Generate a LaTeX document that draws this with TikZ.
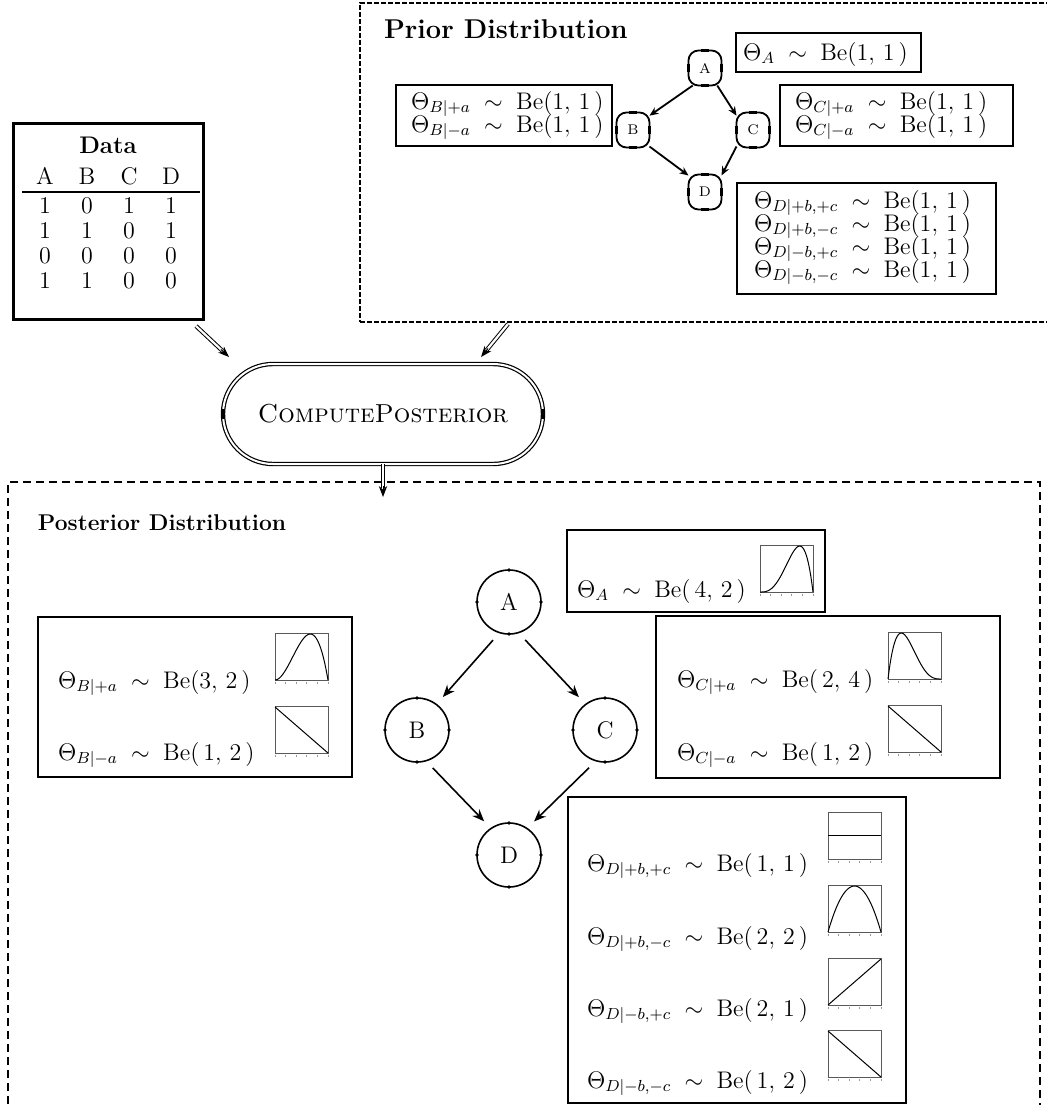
\documentclass[tikz,border=0pt]{standalone}
\usepackage{amsmath}
\usetikzlibrary{shapes.misc,arrows.meta,calc}
\newcommand\bplot[3]{%
  \draw[plotframe] (#1,#2) rectangle ++(53,-47);
  \draw[plotcurve] plot[domain=0:1,samples=50] ({#1+53*\x},{#2-46*(#3)});
  \foreach \t in {0,...,5} \draw[plottick] ({#1+\t*10.6},#2+1.5) -- ++(0,2.5);
}
\newcommand\thr[2]{$\Theta_{#1}\;\sim\;\mathrm{Be}(#2\,)$}
\begin{document}
\begin{tikzpicture}[x=0.5pt,y=-0.5pt,
  every node/.style={inner sep=0pt,outer sep=0pt},
  txt/.style={font=\fontsize{12}{14.4}\selectfont},
  sz/.style 2 args={minimum width=#1*0.5pt,minimum height=#2*0.5pt},
  solidbox/.style={draw,line width=1pt,rectangle},
  databox/.style={draw,line width=1.5pt,rectangle},
  priorbox/.style={draw,line width=1pt,rectangle,dash pattern=on 2.5pt off 1pt},
  postbox/.style={draw,line width=0.7pt,rectangle,dash pattern=on 4pt off 2.5pt},
  smallnode/.style={draw,line width=0.9pt,rectangle,rounded corners=5pt,minimum width=16.5pt,minimum height=17.5pt,font=\fontsize{7}{8}\selectfont},
  bignode/.style={draw,line width=0.8pt,circle,minimum size=32pt,font=\fontsize{12}{14.4}\selectfont},
  pill/.style={draw,rounded rectangle,double,double distance=1pt,line width=0.6pt,minimum width=160pt,minimum height=50pt,font=\fontsize{13}{15}\selectfont},
  parrowsmall/.style={-{Stealth[length=4.5pt,width=3.8pt]},line width=0.9pt},
  parrowbig/.style={-{Stealth[length=6pt,width=4.8pt]},line width=0.8pt,shorten >=5pt,shorten <=5pt},
  dbl/.style={double,double distance=1.1pt,line width=0.5pt},
  dbltip/.style={-{Stealth[length=5.5pt,width=4.2pt]},line width=0.5pt},
  plotframe/.style={draw=black!65,line width=0.5pt},
  plotcurve/.style={draw=black,line width=0.5pt},
  plottick/.style={draw=black!40,line width=0.4pt},
  tickmark/.style={line width=1.6pt}
]
\useasboundingbox (0,0) rectangle (1047,1105);

% ---------- containers ----------
\node[priorbox,sz={690}{319}] (prior) at (705,162.5) {};
\node[postbox,sz={1032}{650}] (post) at (524,807) {};
\node[anchor=west,font=\fontsize{13.6}{16}\selectfont\bfseries] (priorhead) at (384,29) {Prior Distribution};
\node[anchor=west,font=\fontsize{11.4}{13.6}\selectfont\bfseries] (posthead) at (38,523) {Posterior Distribution};

% ---------- data table ----------
\node[databox,sz={190}{196}] (data) at (108,221) {};
\node[font=\fontsize{12}{14.4}\selectfont\bfseries] (dtitle) at (108,145) {Data};
\foreach \c/\xx in {A/45,B/87,C/129,D/171}
  \node[txt] (h\c) at (\xx,176) {\c};
\draw[line width=1pt] (22,192) -- (200,192);
\foreach \r/\yy/\a/\b/\c/\d in {1/206/1/0/1/1,2/231/1/1/0/1,3/256/0/0/0/0,4/281/1/1/0/0}{
  \node[txt] (r\r a) at (45,\yy) {\a};
  \node[txt] (r\r b) at (87,\yy) {\b};
  \node[txt] (r\r c) at (129,\yy) {\c};
  \node[txt] (r\r d) at (171,\yy) {\d};
}

% ---------- prior ----------
\node[smallnode] (pnA) at (705,68) {A};
\node[smallnode] (pnB) at (633,130) {B};
\node[smallnode] (pnC) at (753,130) {C};
\node[smallnode] (pnD) at (705,192) {D};
\foreach \n in {pnA,pnB,pnC,pnD}{
  \draw[tickmark] ([xshift=-2pt]\n.north) -- ([xshift=2pt]\n.north);
  \draw[tickmark] ([xshift=-2pt]\n.south) -- ([xshift=2pt]\n.south);
  \draw[tickmark] ([yshift=-2pt]\n.west) -- ([yshift=2pt]\n.west);
  \draw[tickmark] ([yshift=-2pt]\n.east) -- ([yshift=2pt]\n.east);
}
\draw[parrowsmall] (pnA.-125) -- (pnB.41);
\draw[parrowsmall] (pnA.-55) -- (pnC.139);
\draw[parrowsmall] (pnB.-45) -- (pnD.135);
\draw[parrowsmall] (pnC.-135) -- (pnD.45);

\node[solidbox,sz={185}{39}] (pA) at (828.5,52.5) {};
\node[txt,anchor=base west] (pA1) at (743,60) {\thr{A}{1,\,1}};
\node[solidbox,sz={216}{61}] (pB) at (504,115.5) {};
\node[txt,anchor=base west] (pB1) at (411,109) {\thr{B|+a}{1,\,1}};
\node[txt,anchor=base west] (pB2) at (411,132) {\thr{B|-a}{1,\,1}};
\node[solidbox,sz={233}{61}] (pC) at (896.5,115.5) {};
\node[txt,anchor=base west] (pC1) at (795,109) {\thr{C|+a}{1,\,1}};
\node[txt,anchor=base west] (pC2) at (795,132) {\thr{C|-a}{1,\,1}};
\node[solidbox,sz={259}{111}] (pD) at (866.5,238.5) {};
\node[txt,anchor=base west] (pD1) at (754,208) {\thr{D|+b,+c}{1,\,1}};
\node[txt,anchor=base west] (pD2) at (754,231) {\thr{D|+b,-c}{1,\,1}};
\node[txt,anchor=base west] (pD3) at (754,254) {\thr{D|-b,+c}{1,\,1}};
\node[txt,anchor=base west] (pD4) at (754,277) {\thr{D|-b,-c}{1,\,1}};

% ---------- compute posterior ----------
\node[pill] (cp) at (383,414) {\textsc{ComputePosterior}};
\draw[tickmark] ([yshift=-2.5pt]cp.west) -- ([yshift=2.5pt]cp.west);
\draw[tickmark] ([yshift=-2.5pt]cp.east) -- ([yshift=2.5pt]cp.east);

\coordinate (s1) at (196,326); \coordinate (e1) at (229,357);
\coordinate (s2) at (508,324); \coordinate (e2) at (481,357);
\coordinate (e3) at (383,497);
\draw[dbl] (s1) -- ($(e1)!4.5pt!(s1)$);
\draw[dbltip] ($(e1)!5.5pt!(s1)$) -- (e1);
\draw[dbl] (s2) -- ($(e2)!4.5pt!(s2)$);
\draw[dbltip] ($(e2)!5.5pt!(s2)$) -- (e2);
\draw[dbl] (cp.south) -- ($(e3)!4.5pt!(cp.south)$);
\draw[dbltip] ($(e3)!5.5pt!(cp.south)$) -- (e3);

% ---------- posterior graph ----------
\node[bignode] (A) at (509,602) {A};
\node[bignode] (B) at (417,730) {B};
\node[bignode] (C) at (605,730) {C};
\node[bignode] (D) at (509,855) {D};
\foreach \n in {A,B,C,D}
  \foreach \an in {north,south,east,west}
    \fill (\n.\an) circle[radius=0.9pt];
\draw[parrowbig] (A.-107) -- (B.53);
\draw[parrowbig] (A.-73) -- (C.127);
\draw[parrowbig] (B.-74) -- (D.124);
\draw[parrowbig] (C.-106) -- (D.56);

% ---------- posterior parameter boxes ----------
\node[solidbox,sz={258}{82}] (qA) at (696,571) {};
\node[txt,anchor=base west] (qAt) at (577,597) {\thr{A}{\,4,\,2}};
\bplot{760}{592}{(\x^3*(1-\x))/0.10546875}

\node[solidbox,sz={314}{160}] (qB) at (195,697) {};
\node[txt,anchor=base west] (qB1) at (58,688) {\thr{B|+a}{3,\,2}};
\node[txt,anchor=base west] (qB2) at (58,760) {\thr{B|-a}{\,1,\,2}};
\bplot{275}{680}{(\x^2*(1-\x))/0.1481481}
\bplot{275}{753}{(1-\x)}

\node[solidbox,sz={344}{162}] (qC) at (828,697) {};
\node[txt,anchor=base west] (qC1) at (677,687) {\thr{C|+a}{\,2,\,4}};
\node[txt,anchor=base west] (qC2) at (677,760) {\thr{C|-a}{\,1,\,2}};
\bplot{888}{679}{(\x*(1-\x)^3)/0.10546875}
\bplot{888}{752}{(1-\x)}

\node[solidbox,sz={338}{306}] (qD) at (737,950) {};
\node[txt,anchor=base west] (qD1) at (587,871) {\thr{D|+b,+c}{\,1,\,1}};
\node[txt,anchor=base west] (qD2) at (587,944) {\thr{D|+b,-c}{\,2,\,2}};
\node[txt,anchor=base west] (qD3) at (587,1016) {\thr{D|-b,+c}{\,2,\,1}};
\node[txt,anchor=base west] (qD4) at (587,1088) {\thr{D|-b,-c}{\,1,\,2}};
\bplot{828}{859}{0.52}
\bplot{828}{932}{(4*\x*(1-\x))}
\bplot{828}{1005}{\x}
\bplot{828}{1077}{(1-\x)}
\end{tikzpicture}
\end{document}
